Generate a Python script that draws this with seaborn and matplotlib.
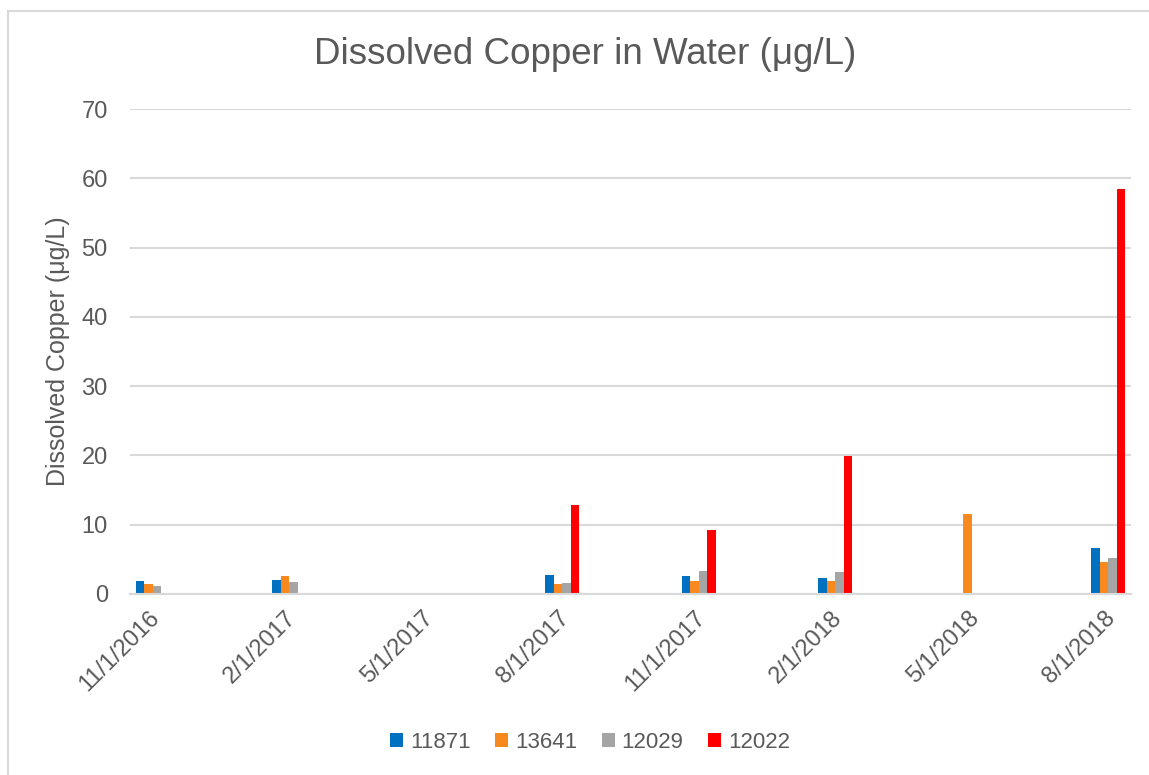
import numpy as np
import pandas as pd
import matplotlib
matplotlib.use("Agg")
import matplotlib.pyplot as plt
import matplotlib.patches as patches
import matplotlib.transforms as mtransforms
import seaborn as sns

# monthly categories along the date axis
months = ["11/1/2016", "12/1/2016", "1/1/2017", "2/1/2017", "3/1/2017", "4/1/2017",
          "5/1/2017", "6/1/2017", "7/1/2017", "8/1/2017", "9/1/2017", "10/1/2017",
          "11/1/2017", "12/1/2017", "1/1/2018", "2/1/2018", "3/1/2018", "4/1/2018",
          "5/1/2018", "6/1/2018", "7/1/2018", "8/1/2018"]

# sampling dates and values (µg/L) per site
sample_dates = ["11/1/2016", "2/1/2017", "8/1/2017", "11/1/2017", "2/1/2018", "5/1/2018", "8/1/2018"]
site_11871 = [1.85, 2.0, 2.75, 2.55, 2.3, np.nan, 6.7]
site_13641 = [1.4, 2.65, 1.4, 1.9, 1.9, 11.6, 4.6]
site_12029 = [1.1, 1.7, 1.6, 3.3, 3.2, np.nan, 5.2]
site_12022 = [np.nan, np.nan, 12.8, 9.25, 19.9, np.nan, 58.4]

sites = ["11871", "13641", "12029", "12022"]
colors = ["#0070C0", "#F7891F", "#A5A5A5", "#FF0000"]
tick_labels = months[::3]

rows = []
for site, vals in zip(sites, [site_11871, site_13641, site_12029, site_12022]):
    for d, v in zip(sample_dates, vals):
        rows.append({"Date": d, "Site": site, "Copper": v})
df = pd.DataFrame(rows)

sns.set_style("white")
plt.rcParams['font.family'] = ['Liberation Sans', 'DejaVu Sans']

fig = plt.figure(figsize=(11.49, 7.75), dpi=100)
ax = fig.add_axes([130 / 1149, 1 - 594 / 775, (1131 - 130) / 1149, (594 - 109) / 775])

sns.barplot(data=df, x="Date", y="Copper", hue="Site", order=months, hue_order=sites,
            palette=dict(zip(sites, colors)), width=0.75, linewidth=0, saturation=1,
            errorbar=None, ax=ax)

ax.set_ylim(0, 70)
ax.set_xlim(-0.5, len(months) - 0.5)
ax.set_yticks(range(0, 71, 10))
ax.yaxis.grid(True, color="#D9D9D9", linewidth=1.5)
ax.set_axisbelow(True)
for s in ["top", "right", "left"]:
    ax.spines[s].set_visible(False)
ax.spines["bottom"].set_color("#D9D9D9")
ax.spines["bottom"].set_linewidth(1.5)

ax.set_xticks(range(0, len(months), 3))
ax.set_xticklabels(tick_labels, rotation=45, ha="right", rotation_mode="anchor",
                   fontsize=17, color="#595959")
ax.tick_params(axis="x", length=0, pad=9)
shift = mtransforms.ScaledTranslation(-4 / 100, 0, fig.dpi_scale_trans)
for lbl in ax.get_xticklabels():
    lbl.set_transform(lbl.get_transform() + shift)
ax.tick_params(axis="y", length=0, pad=16, labelsize=17, labelcolor="#595959")

ax.set_xlabel("")
ax.set_ylabel("Dissolved Copper (μg/L)", fontsize=18, color="#595959", labelpad=8)

fig.text(585 / 1149, 1 - 55 / 775, "Dissolved Copper in Water (μg/L)", fontsize=26.5,
         color="#595959", ha="center", va="center")

handles, labels = ax.get_legend_handles_labels()
ax.legend_.remove()
fig.legend(handles, labels, loc="center", bbox_to_anchor=(590 / 1149, 1 - 742 / 775),
           ncol=4, frameon=False, fontsize=16, handlelength=0.6, handleheight=0.6,
           handletextpad=0.3, columnspacing=1.1, labelcolor="#595959")

fig.add_artist(patches.Rectangle((8 / 1149, -0.1), 2, 1 - 11 / 775 + 0.1,
                                 transform=fig.transFigure, fill=False,
                                 edgecolor="#D9D9D9", linewidth=1.5))

fig.savefig("out.png", dpi=100)
